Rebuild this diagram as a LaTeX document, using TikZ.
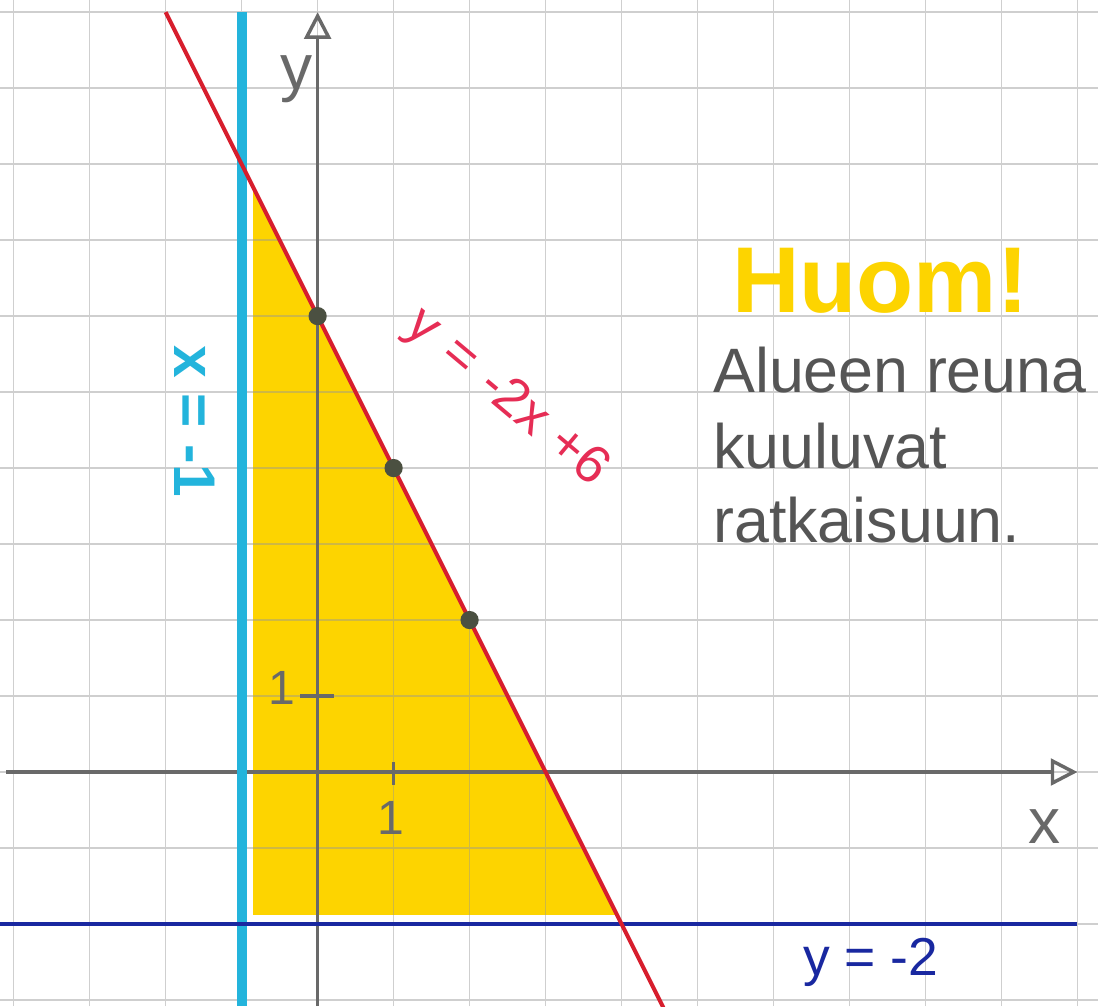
\documentclass[tikz,border=0pt]{standalone}
\usepackage{fontspec}
\setmainfont{Liberation Sans}
\usetikzlibrary{arrows.meta,positioning}
\definecolor{gridgray}{RGB}{150,150,150}
\definecolor{axisgray}{RGB}{105,105,105}
\definecolor{penred}{RGB}{215,30,45}
\definecolor{labelred}{RGB}{230,45,85}
\definecolor{pencyan}{RGB}{35,180,220}
\definecolor{penblue}{RGB}{25,40,160}
\definecolor{hlyellow}{RGB}{253,212,0}
\definecolor{pencil}{RGB}{85,85,85}
\definecolor{dotgray}{RGB}{75,80,65}

\begin{document}
\begin{tikzpicture}[
  gridline/.style={draw=gridgray, opacity=0.45, line width=0.6pt},
  axis/.style={draw=axisgray, line width=1.3pt,
    -{Triangle[open, length=10pt, width=10pt, line width=1.3pt]}},
  dot/.style={circle, fill=dotgray, inner sep=0pt, minimum size=0.24cm},
  note/.style={font=\fontsize{23.5}{28}\selectfont, text=pencil, anchor=base west, inner sep=0pt},
  lbl/.style={font=\fontsize{20}{24}\selectfont, inner sep=1pt},
  >=Stealth
]
  \useasboundingbox (-4.18,-3.08) rectangle (10.27,10.16);
  \fill[white] (-4.18,-3.08) rectangle (10.27,10.16);

  % shaded region
  \fill[hlyellow] (-0.85,7.7) -- (-0.85,-1.88) -- (3.93,-1.88) -- cycle;

  % grid paper
  \draw[gridline, step=1] (-4.18,-3.08) grid (10.27,10.16);

  % boundary points
  \coordinate (RT) at (-2,10);
  \coordinate (RB) at (4.55,-3.1);
  \coordinate (CT) at (-1,10);
  \coordinate (CB) at (-1,-3.08);
  \coordinate (BL) at (-4.18,-2);
  \coordinate (BR) at (10,-2);
  \coordinate (XL) at (-4.1,0);
  \coordinate (XR) at (10,0);
  \coordinate (YB) at (0,-3.08);
  \coordinate (YT) at (0,10);

  % axes
  \draw[axis] (XL) -- (XR);
  \draw[axis] (YB) -- (YT);
  \draw[axisgray, line width=1.3pt] (-0.23,1) -- (0.22,1);
  \draw[axisgray, line width=1.3pt] (1,0.13) -- (1,-0.17);
  \node[lbl, text=axisgray, font=\fontsize{18}{22}\selectfont] (x1) at (0.97,-0.6) {1};
  \node[lbl, text=axisgray, font=\fontsize{18}{22}\selectfont] (y1) at (-0.47,1.1) {1};
  \node[lbl, text=axisgray, font=\fontsize{24}{28}\selectfont] (xl) at (9.57,-0.72) {x};
  \node[lbl, text=axisgray, font=\fontsize{24}{28}\selectfont] (yl) at (-0.28,9.12) {y};

  % boundary lines
  \draw[pencyan, line width=3.8pt] (CT) -- (CB);
  \draw[penblue, line width=1.6pt] (BL) -- (BR);
  \draw[penred, line width=1.5pt] (RT) -- (RB);

  % points on the line
  \node[dot] (P0) at (0,6) {};
  \node[dot] (P1) at (1,4) {};
  \node[dot] (P2) at (2,2) {};

  % line labels
  \node[lbl, text=labelred, rotate=-40] (redlbl) at (2.48,4.92) {y\hspace{0.35em}=\hspace{0.35em}-2x\hspace{0.3em}+6};
  \node[lbl, text=pencyan, rotate=-90, font=\bfseries\fontsize{22}{26}\selectfont] (cyanlbl) at (-1.62,4.62) {x = -1};
  \node[lbl, text=penblue] (bluelbl) at (7.28,-2.5) {y = -2};

  % note
  \node[note, text=hlyellow, font=\bfseries\fontsize{35}{40}\selectfont] (huom) at (5.45,6.05) {Huom!};
  \node[note] (n1) at (5.2,5.0) {Alueen reuna};
  \node[note] (n2) at (5.2,4.0) {kuuluvat};
  \node[note] (n3) at (5.2,3.02) {ratkaisuun.};
\end{tikzpicture}
\end{document}
